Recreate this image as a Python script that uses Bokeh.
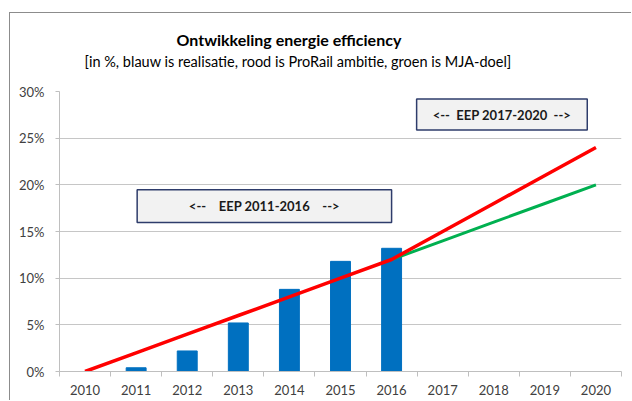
from bokeh.plotting import figure
from bokeh.models import FixedTicker, PrintfTickFormatter, BoxAnnotation, Label, Range1d, Title
from bokeh.embed import file_html
from bokeh.resources import INLINE

# ---- data ----
years = [2010, 2011, 2012, 2013, 2014, 2015, 2016, 2017, 2018, 2019, 2020]
bar_years = [2011, 2012, 2013, 2014, 2015, 2016]
realisatie = [0.4, 2.2, 5.2, 8.8, 11.8, 13.2]          # blauw
ambitie = [0, 2, 4, 6, 8, 10, 12, 15, 18, 21, 24]        # rood (ProRail ambitie)
mja_years = [2016, 2017, 2018, 2019, 2020]
mja = [12, 14, 16, 18, 20]                               # groen (MJA-doel)
y_ticks = [0, 5, 10, 15, 20, 25, 30]

title_text = "Ontwikkeling energie efficiency"
subtitle_text = "[in %, blauw is realisatie, rood is ProRail ambitie, groen is MJA-doel]"
box1_text = "<--\u00a0\u00a0\u00a0 EEP 2011-2016\u00a0\u00a0\u00a0 -->"
box2_text = "<--\u00a0 EEP 2017-2020\u00a0 -->"

FONT = "Lato"
TXT = "#404040"
GRID = "#C6C6C6"
AXIS = "#BFBFBF"

p = figure(width=622, height=388, output_backend="svg", toolbar_location=None,
           x_range=Range1d(years[0] - 0.5, years[-1] + 0.5), y_range=Range1d(0, 30),
           min_border_left=49, min_border_right=11, min_border_top=78, min_border_bottom=30,
           styles={"border-left": "1px solid #8C8C8C", "border-top": "1px solid #8C8C8C",
                   "margin-left": "9px", "margin-top": "12px"})
p.outline_line_color = None
p.background_fill_color = "white"
p.border_fill_color = "white"

# x axis: labels at centres, tick marks between categories
xt = FixedTicker(ticks=years, minor_ticks=[y - 0.5 for y in years] + [years[-1] + 0.5])
p.xaxis.ticker = xt
p.xaxis.major_tick_line_color = None
p.xaxis.major_tick_out = 4
p.xaxis.major_tick_in = 0
p.xaxis.minor_tick_line_color = AXIS
p.xaxis.minor_tick_out = 5
p.xaxis.minor_tick_in = 0
p.xaxis.axis_line_color = AXIS
p.xaxis.major_label_standoff = 8
p.xaxis.major_label_text_font = FONT
p.xaxis.major_label_text_font_size = "13px"
p.xaxis.major_label_text_color = TXT
p.xgrid.grid_line_color = None

p.yaxis.ticker = FixedTicker(ticks=y_ticks)
p.yaxis.formatter = PrintfTickFormatter(format="%d%%")
p.yaxis.axis_line_color = AXIS
p.yaxis.major_tick_line_color = AXIS
p.yaxis.major_tick_out = 4
p.yaxis.major_tick_in = 0
p.yaxis.minor_tick_line_color = None
p.yaxis.major_label_standoff = 11
p.yaxis.major_label_text_font = FONT
p.yaxis.major_label_text_font_size = "13px"
p.yaxis.major_label_text_color = TXT
p.ygrid.ticker = FixedTicker(ticks=y_ticks)
p.ygrid.grid_line_color = GRID
p.ygrid.grid_line_width = 1

# glyphs
p.vbar(x=bar_years, top=realisatie, width=0.39, color="#0070C0")
p.line(mja_years, mja, line_width=3, color="#00B050")
p.line(years, ambitie, line_width=3.5, color="#FF0000")

# annotation boxes
for (l, r, b, t, txt) in [(2011.02, 2016.0, 15.96, 19.47, box1_text),
                          (2016.49, 2019.83, 25.87, 29.19, box2_text)]:
    p.add_layout(BoxAnnotation(left=l, right=r, bottom=b, top=t, fill_color="#F2F2F2",
                               fill_alpha=1, line_color="#2E3C6B", line_alpha=1,
                               line_width=1.5))
    p.add_layout(Label(x=(l + r) / 2, y=(b + t) / 2, text=txt, text_align="center",
                       text_baseline="middle", text_font=FONT, text_font_style="bold",
                       text_font_size="13px", text_color="#1A1A1A"))

# spacer between plot and subtitle, then subtitle, then main title above it
p.add_layout(Title(text=" ", standoff=4, text_font=FONT, text_font_size="13px"), "above")
p.add_layout(Title(text=subtitle_text, align="left", offset=25, standoff=0,
                   text_font=FONT, text_font_style="normal", text_font_size="14.5px",
                   text_color="#000000"), "above")
p.add_layout(Title(text=title_text, align="left", offset=117, standoff=3,
                   text_font=FONT, text_font_style="bold", text_font_size="16px",
                   text_color="#000000"), "above")

open("out.html", "w").write(file_html(p, INLINE))
